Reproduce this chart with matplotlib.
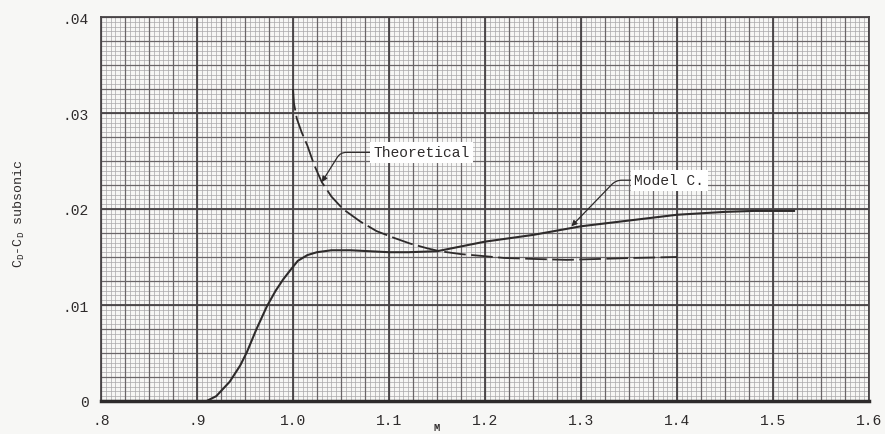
import numpy as np
import matplotlib
matplotlib.use("Agg")
import matplotlib.pyplot as plt

# Drag rise over subsonic level vs Mach number
model_c_mach = [0.80, 0.91, 0.92, 0.934, 0.945, 0.952, 0.962, 0.973, 0.982, 0.990,
                0.997, 1.005, 1.015, 1.025, 1.04, 1.06, 1.08, 1.10, 1.12, 1.15,
                1.175, 1.20, 1.25, 1.30, 1.35, 1.40, 1.45, 1.48, 1.523]
model_c_cd = [0.0, 0.0, 0.0005, 0.0020, 0.0037, 0.0051, 0.0075, 0.0099, 0.0115, 0.0127,
              0.0136, 0.0146, 0.0152, 0.0155, 0.0157, 0.0157, 0.0156, 0.0155, 0.0155, 0.0156,
              0.0161, 0.0166, 0.0173, 0.0182, 0.0188, 0.0194, 0.0197, 0.0198, 0.0198]

theory_mach = [1.0, 1.001, 1.004, 1.009, 1.015, 1.022, 1.030, 1.040, 1.052, 1.07,
               1.087, 1.105, 1.122, 1.14, 1.153, 1.175, 1.198, 1.22, 1.25, 1.285,
               1.32, 1.354, 1.40]
theory_cd = [0.0325, 0.0310, 0.0294, 0.0280, 0.0266, 0.0246, 0.0228, 0.0213, 0.0200, 0.0187,
             0.0177, 0.0170, 0.0164, 0.0159, 0.0156, 0.0153, 0.0151, 0.0149, 0.0148, 0.0147,
             0.0148, 0.0149, 0.0150]

x_ticks = [0.8, 0.9, 1.0, 1.1, 1.2, 1.3, 1.4, 1.5, 1.6]
x_tick_labels = [".8", ".9", "1.0", "1.1", "1.2", "1.3", "1.4", "1.5", "1.6"]
y_ticks = [0.0, 0.01, 0.02, 0.03, 0.04]
y_tick_labels = ["0", ".01", ".02", ".03", ".04"]

mono = "Liberation Mono"
plt.rcParams["font.family"] = [mono, "DejaVu Sans Mono"]
plt.rcParams["mathtext.fontset"] = "custom"
plt.rcParams["mathtext.rm"] = mono
plt.rcParams["mathtext.it"] = mono

paper = "#f7f7f5"
ink = "#2e2b2b"

fig = plt.figure(figsize=(8.85, 4.35), dpi=100, facecolor=paper)
ax = fig.add_axes([101 / 885, 33 / 435, 768 / 885, 384 / 435], facecolor=paper)
ax.set_xlim(0.8, 1.6)
ax.set_ylim(0.0, 0.04)

# Graph-paper ruling: fine, medium and heavy lines
fine_x = np.arange(0.8, 1.6001, 0.005)
fine_y = np.arange(0.0, 0.04001, 0.0005)
ax.vlines(fine_x, 0, 0.04, colors="#a9a7a9", lw=0.5, zorder=0)
ax.hlines(fine_y, 0.8, 1.6, colors="#a9a7a9", lw=0.5, zorder=0)
med_x = np.arange(0.8, 1.6001, 0.025)
med_y = np.arange(0.0, 0.04001, 0.0025)
ax.vlines(med_x, 0, 0.04, colors="#6a6668", lw=0.9, zorder=0.5)
ax.hlines(med_y, 0.8, 1.6, colors="#6a6668", lw=0.9, zorder=0.5)
ax.vlines(x_ticks, 0, 0.04, colors="#484446", lw=1.3, zorder=0.6)
ax.hlines(y_ticks, 0.8, 1.6, colors="#484446", lw=1.3, zorder=0.6)

for side in ["top", "right", "left"]:
    ax.spines[side].set_color("#484446")
    ax.spines[side].set_linewidth(1.3)
ax.spines["bottom"].set_color(ink)
ax.spines["bottom"].set_linewidth(2.5)

ax.plot(model_c_mach, model_c_cd, color=ink, lw=1.5, zorder=3, solid_capstyle="butt")
ax.plot(theory_mach, theory_cd, color=ink, lw=1.3, zorder=3, dashes=(12, 3))

ax.set_xticks(x_ticks)
ax.set_xticklabels(x_tick_labels, fontsize=10.5, color=ink)
ax.set_yticks(y_ticks)
ax.set_yticklabels(y_tick_labels, fontsize=10.5, color=ink)
ax.tick_params(length=0, pad=9)

ax.set_xlabel("M", fontsize=7.5, color=ink, fontweight="bold")
ax.xaxis.set_label_coords((437 - 101) / 768, -0.055)
ax.set_ylabel(r"C$_{\rm D}$-C$_{\rm D}$ subsonic", fontsize=9.5, color=ink)
ax.yaxis.set_label_coords(-0.097, 0.49)

box = dict(boxstyle="square,pad=0.25", fc="white", ec="none")
ax.annotate("Theoretical", xy=(1.030, 0.0228), xytext=(1.134, 0.0259),
            fontsize=10.5, color=ink, ha="center", va="center", bbox=box, zorder=5,
            arrowprops=dict(arrowstyle="-|>", color=ink, lw=0.9, mutation_scale=8,
                            relpos=(0, 0.5), shrinkA=0, shrinkB=0,
                            connectionstyle="angle,angleA=0,angleB=58,rad=6"))
ax.annotate("Model C.", xy=(1.290, 0.0182), xytext=(1.392, 0.0230),
            fontsize=10.5, color=ink, ha="center", va="center", bbox=box, zorder=5,
            arrowprops=dict(arrowstyle="-|>", color=ink, lw=0.9, mutation_scale=8,
                            relpos=(0, 0.5), shrinkA=0, shrinkB=0,
                            connectionstyle="angle,angleA=0,angleB=46,rad=6"))

fig.savefig("out.png", dpi=100, facecolor=paper)
